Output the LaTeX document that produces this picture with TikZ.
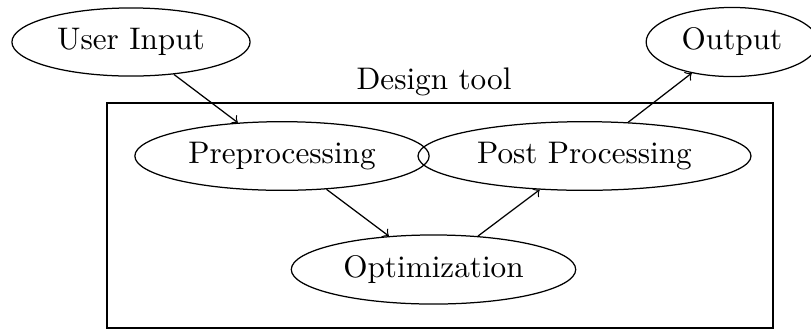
\documentclass[tikz,border=0pt]{standalone}
\usetikzlibrary{shapes.geometric}
\begin{document}
\begin{tikzpicture}[x=0.3205pt,y=-0.3205pt,
  stage/.style={draw,ellipse},
  flow/.style={->}]
\useasboundingbox (0,0) rectangle (811,331);
\node[stage] (ui) at (131,42) {User Input};
\node[stage] (out) at (732,42) {Output};
\node[anchor=base] (title) at (434,89) {Design tool};
\node[draw,minimum width=666*0.3205pt,minimum height=225*0.3205pt,inner sep=0pt] (box) at (440,215.5) {};
\node[stage] (pre) at (282,156) {Preprocessing};
\node[stage] (post) at (584.5,156) {Post Processing};
\node[stage] (opt) at (433.5,269.5) {Optimization};
\draw[flow] (ui) -- (pre);
\draw[flow] (pre) -- (opt);
\draw[flow] (opt) -- (post);
\draw[flow] (post) -- (out);
\end{tikzpicture}
\end{document}
